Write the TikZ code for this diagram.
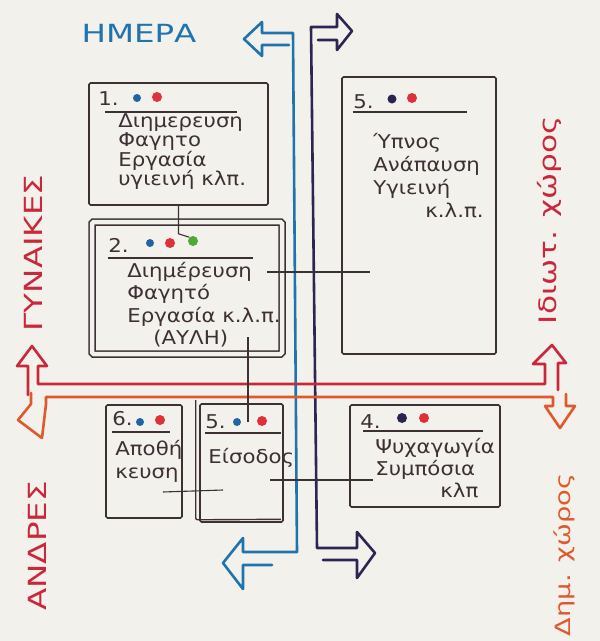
\documentclass[tikz,border=0pt]{standalone}
\usepackage{fontspec}
\newfontfamily\hand[FakeStretch=1.12]{DejaVu Sans}
\newfontfamily\capsfont[FakeStretch=1.3]{DejaVu Sans}
\definecolor{paper}{HTML}{F3F1EB}
\definecolor{ink}{HTML}{3D3035}
\definecolor{dayblue}{HTML}{1F74AE}
\definecolor{nightnavy}{HTML}{2E2553}
\definecolor{womenred}{HTML}{C9283A}
\definecolor{menorange}{HTML}{DE5A2E}
\definecolor{dotblue}{HTML}{2063A8}
\definecolor{dotred}{HTML}{E0303A}
\definecolor{dotgreen}{HTML}{4FA83A}
\definecolor{dotnavy}{HTML}{2A2450}
\tikzset{every picture/.style={line width=0.75pt}}

\begin{document}
\begin{tikzpicture}[x=1pt,y=1pt,yscale=-1,
  room/.style={draw=ink,line width=1.6,rounded corners=1.5,inner sep=0},
  dot/.style={circle,inner sep=0,minimum size=8},
  roomtext/.style={anchor=base west,align=left,inner sep=0,text=ink,font=\hand\fontsize{19}{20}\selectfont},
  roomno/.style={anchor=base west,inner sep=0,text=ink,font=\hand\fontsize{19}{20}\selectfont},
  rule/.style={draw=ink,line width=1.3},
  link/.style={draw=ink,line width=1.1},
  axis/.style={line width=2.6,line join=round,line cap=round},
  sidelabel/.style={inner sep=0,font=\capsfont\fontsize{25}{25}\selectfont}]
\useasboundingbox (0,0) rectangle (600,641);
\fill[paper] (0,0) rectangle (600,641);

%Shape: Axis day / night
\draw[axis,dayblue] (289,45) -- (262,45) -- (262,56) -- (244,39) -- (262,22) -- (262,33) -- (293,33) -- (297,552) -- (243,552) -- (243,538) -- (223,563) -- (243,589) -- (243,565) -- (272,565);
\draw[axis,nightnavy] (318,40) -- (337,40) -- (337,50) -- (352,31) -- (337,14) -- (337,27) -- (311,27) -- (317,548) -- (357,548) -- (357,532) -- (375,553) -- (357,578) -- (357,560) -- (323,560);

%Shape: Axis women / men
\draw[axis,womenred] (28,395) -- (28,366) -- (17,366) -- (32,346) -- (47,366) -- (38,366) -- (38,384) -- (545,384) -- (545,364) -- (533,364) -- (552,345) -- (566,363) -- (558,363) -- (558,390);
\draw[axis,menorange] (31,393) -- (31,404) -- (18,420) -- (42,438) -- (46,404) -- (46,397) -- (553,397) -- (553,406) -- (545,406) -- (560,428) -- (575,406) -- (566,406) -- (566,394);

%Text Node
\node[sidelabel,dayblue] (day) at (139,33) {ΗΜΕΡΑ};
\node[sidelabel,womenred,rotate=90] (women) at (33,253) {ΓΥΝΑΙΚΕΣ};
\node[sidelabel,womenred,rotate=90] (men) at (37,546) {ΑΝΔΡΕΣ};
\node[sidelabel,womenred,rotate=90,font=\capsfont\fontsize{24}{24}\selectfont] (private) at (549,220) {Ιδιωτ. χώρος};
\node[sidelabel,menorange,rotate=90,font=\capsfont\fontsize{21}{21}\selectfont] (public) at (564,555) {Δημ. χώρος};

%Shape: Rectangle 1
\node[room,minimum width=179,minimum height=122] (b1) at (178.5,144) {};
\node[roomno] (n1) at (98,105) {1.};
\node[dot,fill=dotblue] (b1b) at (137,98) {};
\node[dot,fill=dotred,minimum size=10] (b1r) at (157,97) {};
\draw[rule] (105,112) -- (237,112);
\node[roomtext,font=\hand\fontsize{19}{19.5}\selectfont] (t1) at (118,185.5) {Διημερευση\\Φαγητο\\Εργασία\\υγιεινή κλπ.};

%Shape: Rectangle 2
\node[room,double=paper,double distance=4.5,line width=1.5,minimum width=190,minimum height=132] (b2) at (187,288) {};
\node[roomno] (n2) at (108,252) {2.};
\node[dot,fill=dotblue] (b2b) at (150,243) {};
\node[dot,fill=dotred,minimum size=10] (b2r) at (170,243) {};
\node[dot,fill=dotgreen,minimum size=10] (b2g) at (193,241) {};
\draw[rule] (108,258) -- (253,258);
\node[roomtext,font=\hand\fontsize{19}{22.5}\selectfont] (t2) at (127,344.5) {Διημέρευση\\Φαγητό\\Εργασία κ.λ.π.\\\hspace*{26pt}(ΑΥΛΗ)};

%Shape: Rectangle 5
\node[room,minimum width=154,minimum height=277] (b5t) at (419,215.5) {};
\node[roomno] (n5t) at (353,108) {5.};
\node[dot,fill=dotnavy,minimum size=9] (b5tn) at (392,99) {};
\node[dot,fill=dotred,minimum size=10] (b5tr) at (412,98) {};
\draw[rule] (353,112) -- (467,112);
\node[roomtext,font=\hand\fontsize{19}{23}\selectfont] (t5t) at (373,217) {Ύπνος\\Ανάπαυση\\Υγιεινή\\\hspace*{52pt}κ.λ.π.};

%Shape: Rectangle 6
\node[room,minimum width=76,minimum height=113] (b6) at (144,461.5) {};
\node[roomno] (n6) at (112,425) {6.};
\node[dot,fill=dotblue] (b6b) at (140,422) {};
\node[dot,fill=dotred,minimum size=10] (b6r) at (160,420) {};
\draw[rule] (112,432) -- (170,432);
\node[roomtext,font=\hand\fontsize{19}{23}\selectfont] (t6) at (115,478) {Αποθή\\κευση};

%Shape: Rectangle 5 entrance
\node[room,minimum width=83,minimum height=118] (b5b) at (241.5,463) {};
\draw[ink,line width=1.4,rounded corners=2] ([xshift=-3.5pt,yshift=-3pt]b5b.north west) -- ([xshift=-3.5pt,yshift=-3pt]b5b.south west) -- ([xshift=-3pt,yshift=-3.5pt]b5b.south east);
\node[roomno] (n5b) at (205,428) {5.};
\node[dot,fill=dotblue] (b5bb) at (237,422) {};
\node[dot,fill=dotred,minimum size=10] (b5br) at (262,421) {};
\draw[rule] (205,433) -- (281,433);
\node[roomtext] (t5b) at (208,463) {Είσοδος};

%Shape: Rectangle 4
\node[room,minimum width=150,minimum height=102] (b4) at (425,456) {};
\node[roomno] (n4) at (360,428) {4.};
\node[dot,fill=dotnavy,minimum size=10] (b4n) at (402,418) {};
\node[dot,fill=dotred,minimum size=10] (b4r) at (424,418) {};
\draw[rule] (363,431) -- (483,431);
\node[roomtext,font=\hand\fontsize{19}{22}\selectfont] (t4) at (375,497) {Ψυχαγωγία\\Συμπόσια\\\hspace*{65pt}κλπ};

%Straight Lines
\coordinate (c2s) at (267,272);
\coordinate (c2e) at (370,272);
\coordinate (c3s) at (248,337);
\coordinate (c4s) at (163,492);
\coordinate (c4e) at (223,490);
\coordinate (c5s) at (270,480);
\coordinate (c5e) at (373,480);
\draw[link] (b1.south) -- ++(0,28) -- (b2g.north west);
\draw[link] (c2s) -- (c2e);
\draw[link] (c3s) -- (c3s |- b5b.north) -- ++(0,19);
\draw[link] (c4s) -- (c4e);
\draw[link] (c5s) -- (c5e);

\end{tikzpicture}
\end{document}
